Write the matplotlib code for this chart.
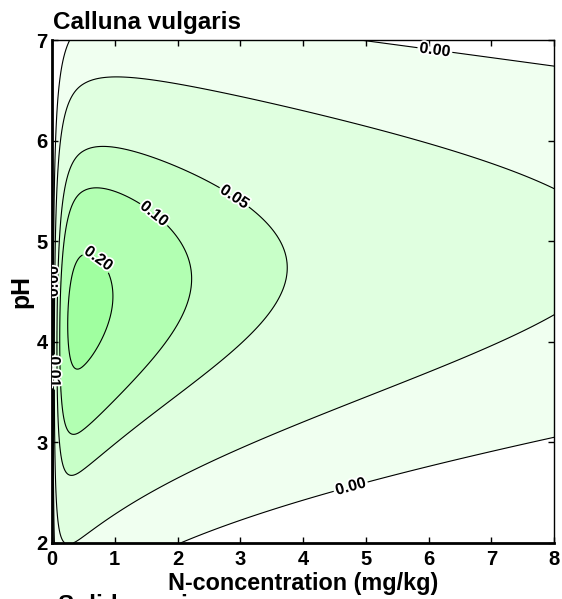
import numpy as np
import matplotlib
matplotlib.use("Agg")
import matplotlib.pyplot as plt
import matplotlib.patheffects as pe

plt.rcParams['font.family'] = ['Liberation Sans', 'DejaVu Sans']

# Response surface of Calluna vulgaris occurrence:
# Gaussian in pH around an optimum that drifts with log(N),
# with a steeper fall-off below the N optimum than above it.
peak_height = 0.243
opt_logN = -0.76
opt_pH = 4.30
curv_logN_low = 1.00
curv_logN_high = 0.73
curv_pH = 1.26
ridge_slope = 0.21

contour_levels = [0.0015, 0.01, 0.05, 0.10, 0.20]
fill_colors = ['#f0fff0', '#e0ffe0', '#c8ffc8', '#b2ffb2', '#a0ffa0']
x_ticks = [0, 1, 2, 3, 4, 5, 6, 7, 8]
y_ticks = [2, 3, 4, 5, 6, 7]
label_spots = [(6.1, 6.9), (4.75, 2.58), (2.95, 5.48), (1.6, 5.25), (0.7, 4.8),
               (0.03, 4.6), (0.03, 3.7)]

n_conc = np.linspace(1e-3, 8, 900)
ph = np.linspace(2, 7, 500)
N, P = np.meshgrid(n_conc, ph)
d = np.log(N) - opt_logN
curv = np.where(d > 0, curv_logN_high, curv_logN_low)
f = 0.5 * curv * d**2
g = 0.5 * curv_pH * (P - opt_pH - ridge_slope * d)**2
Z = peak_height * np.exp(-(f + g))

fig = plt.figure(figsize=(5.62, 5.99), dpi=100)
ax = fig.add_axes([0.0925, 0.0935, 0.8935, 0.8395])

ax.contourf(N, P, Z, levels=contour_levels + [1.0], colors=fill_colors)
cs = ax.contour(N, P, Z, levels=contour_levels, colors='black', linewidths=0.8)
texts = ax.clabel(cs, fmt='%.2f', fontsize=11.5, inline=True, inline_spacing=2,
                  manual=label_spots)
for t in texts:
    t.set_fontweight('bold')
    t.set_path_effects([pe.withStroke(linewidth=2.5, foreground='white')])

ax.set_xlim(0, 8)
ax.set_ylim(2, 7)
ax.set_xticks(x_ticks)
ax.set_yticks(y_ticks)
ax.tick_params(axis='both', direction='in', length=4, width=1,
               top=True, right=True, labelsize=14.5)
ax.tick_params(axis='x', pad=5)
ax.tick_params(axis='y', pad=3)
for lab in ax.get_xticklabels() + ax.get_yticklabels():
    lab.set_fontweight('bold')
ax.spines['left'].set_linewidth(2)
ax.spines['bottom'].set_linewidth(2)
ax.spines['top'].set_linewidth(1)
ax.spines['right'].set_linewidth(1)

ax.set_xlabel('N-concentration (mg/kg)', fontsize=16.8, fontweight='bold',
              labelpad=2)
ax.set_ylabel('pH', fontsize=17.8, fontweight='bold', labelpad=2)
fig.text(0.094, 0.944, 'Calluna vulgaris', fontsize=17.5, fontweight='bold',
         ha='left', va='bottom')
fig.text(0.104, 0.009, 'Solidago virgaurea', fontsize=17.5, fontweight='bold',
         ha='left', va='top')

fig.savefig('out.png', dpi=100)
